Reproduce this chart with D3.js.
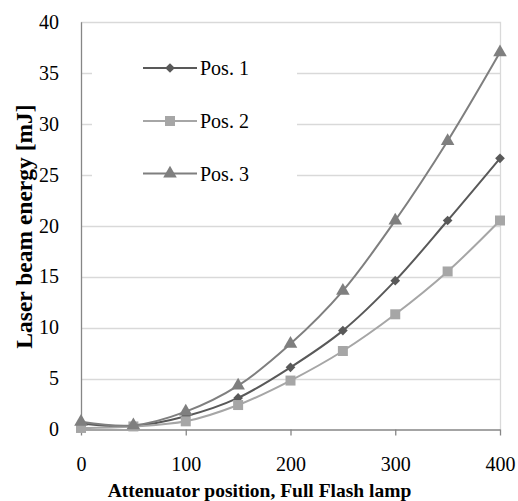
<!DOCTYPE html>
<html><head><meta charset="utf-8">
<script src="https://cdn.jsdelivr.net/npm/d3@7"></script>
<style>body{margin:0;background:#fff}svg{display:block}</style>
</head><body>
<svg id="c" width="518" height="501"></svg>
<script>
const xValues = [0, 50, 100, 150, 200, 250, 300, 350, 400];
const pos1 = [0.6, 0.35, 1.3, 3.1, 6.1, 9.7, 14.6, 20.5, 26.6];
const pos2 = [0.15, 0.3, 0.8, 2.4, 4.8, 7.7, 11.3, 15.5, 20.5];
const pos3 = [0.75, 0.4, 1.75, 4.3, 8.4, 13.6, 20.5, 28.3, 37.0];
const seriesNames = ["Pos. 1", "Pos. 2", "Pos. 3"];
const xTicks = [0, 100, 200, 300, 400];
const yTicks = [0, 5, 10, 15, 20, 25, 30, 35, 40];
const xTitle = "Attenuator position, Full Flash lamp";
const yTitle = "Laser beam energy [mJ]";

const series = [
  {name: seriesNames[0], values: pos1, color: "#595959", shape: d3.symbolDiamond2, size: 60},
  {name: seriesNames[1], values: pos2, color: "#a6a6a6", shape: d3.symbolSquare, size: 100},
  {name: seriesNames[2], values: pos3, color: "#7f7f7f", shape: d3.symbolTriangle, size: 80}
];

const svg = d3.select("#c");
const font = "'Liberation Serif','Times New Roman',serif";
const x = d3.scaleLinear().domain([0, 400]).range([81, 500]);
const y = d3.scaleLinear().domain([0, 40]).range([429.5, 21.7]);

// gridlines
svg.append("g").selectAll("line").data(yTicks.filter(d => d > 0)).join("line")
  .attr("x1", x(0)).attr("x2", x(400))
  .attr("y1", d => Math.round(y(d)) + 0.5).attr("y2", d => Math.round(y(d)) + 0.5)
  .attr("stroke", "#d9d9d9").attr("stroke-width", 1.3);
// right border
svg.append("line").attr("x1", x(400) + 0.5).attr("x2", x(400) + 0.5)
  .attr("y1", y(40)).attr("y2", y(0)).attr("stroke", "#d9d9d9").attr("stroke-width", 1.3);

// legend background (masks gridlines)
svg.append("rect").attr("x", 92).attr("y", 45).attr("width", 205).attr("height", 155).attr("fill", "#fff");

// y axis
const yAxis = d3.axisLeft(y).tickValues(yTicks).tickSize(0).tickPadding(22);
const gy = svg.append("g").attr("transform", `translate(${x(0)},0)`).call(yAxis);
gy.select(".domain").attr("stroke", "#868686").attr("stroke-width", 1.3);
gy.selectAll("text").attr("font-family", font).attr("font-size", 20).attr("fill", "#000");

// x axis
const xAxis = d3.axisBottom(x).tickValues(xTicks).tickSize(6).tickSizeOuter(0).tickPadding(21);
const gx = svg.append("g").attr("transform", `translate(0,${y(0)})`).call(xAxis);
gx.select(".domain").attr("stroke", "#868686").attr("stroke-width", 1.3);
gx.selectAll(".tick line").attr("stroke", "#868686").attr("stroke-width", 1.3);
gx.selectAll("text").attr("font-family", font).attr("font-size", 20).attr("fill", "#000");

// lines
const line = d3.line().x((d, i) => x(xValues[i])).y(d => y(d)).curve(d3.curveCatmullRom.alpha(0.5));
series.forEach(s => {
  svg.append("path").datum(s.values).attr("d", line)
    .attr("fill", "none").attr("stroke", s.color).attr("stroke-width", 2);
  svg.append("g").selectAll("path").data(s.values).join("path")
    .attr("transform", (d, i) => `translate(${x(xValues[i])},${y(d)})`)
    .attr("d", d3.symbol().type(s.shape).size(s.size)).attr("fill", s.color);
});

// legend
const legY = [68, 121, 173.5];
series.forEach((s, i) => {
  const g = svg.append("g").attr("transform", `translate(0,${legY[i]})`);
  g.append("line").attr("x1", 143).attr("x2", 197).attr("stroke", s.color).attr("stroke-width", 2);
  g.append("path").attr("transform", "translate(170,0)")
    .attr("d", d3.symbol().type(s.shape).size(s.size)).attr("fill", s.color);
  g.append("text").attr("x", 200).attr("y", 7).text(s.name)
    .attr("font-family", font).attr("font-size", 20).attr("fill", "#000");
});

// axis titles
svg.append("text").attr("x", 259.5).attr("y", 497).attr("text-anchor", "middle")
  .attr("font-family", font).attr("font-size", 19.5).attr("font-weight", "bold").text(xTitle);
svg.append("text").attr("transform", "translate(32,226.5) rotate(-90)").attr("text-anchor", "middle")
  .attr("font-family", font).attr("font-size", 23.5).attr("font-weight", "bold").text(yTitle);
</script>
</body></html>
